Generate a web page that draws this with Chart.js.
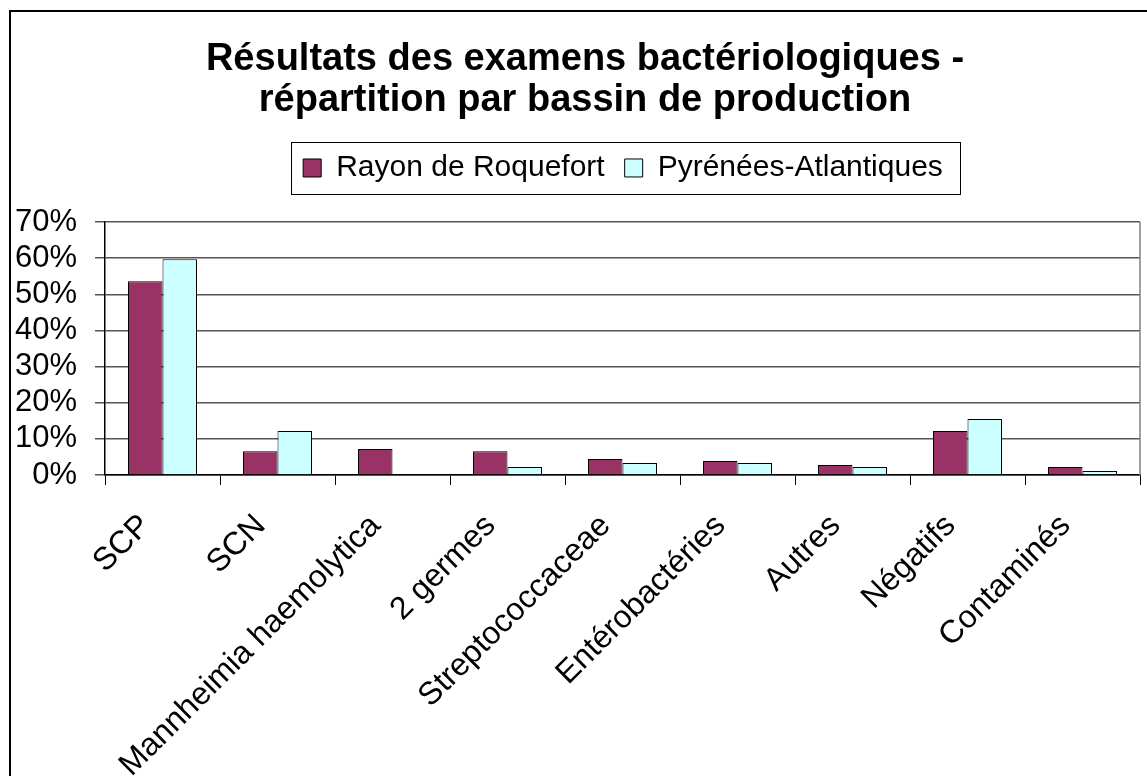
<!DOCTYPE html>
<html>
<head>
<meta charset="utf-8">
<script src="https://cdn.jsdelivr.net/npm/chart.js@4"></script>
<style>
  html, body { margin: 0; padding: 0; background: #fff; overflow: hidden; }
  #wrap { position: relative; width: 1147px; height: 776px; }
</style>
</head>
<body>
<div id="wrap"><canvas id="bacterioChart"></canvas></div>
<script>
const categories = ['SCP', 'SCN', 'Mannheimia haemolytica', '2 germes', 'Streptococcaceae',
  'Entérobactéries', 'Autres', 'Négatifs', 'Contaminés'];
const roquefort = [53.6, 6.6, 7.2, 6.6, 4.4, 3.9, 2.8, 12.2, 2.2];
const pyrenees = [59.7, 12.2, null, 2.2, 3.3, 3.3, 2.2, 15.5, 1.1];
const yTicks = [0, 10, 20, 30, 40, 50, 60, 70];

const FONT = 'Liberation Sans, Arial, sans-serif';

// excel-like frame, legend box and plot border + nudges for title/legend position
const excelLook = {
  id: 'excelLook',
  afterLayout(chart) {
    const t = chart.titleBlock;
    if (t) { t.left += 15; t.right += 15; }
    const lg = chart.legend;
    if (lg) { lg.left += 53; lg.right += 53; }
  },
  afterDraw(chart) {
    const ctx = chart.ctx;
    const area = chart.chartArea;
    ctx.save();
    // outer frame
    ctx.strokeStyle = '#000';
    ctx.lineWidth = 2;
    ctx.beginPath();
    ctx.moveTo(10, chart.height + 5);
    ctx.lineTo(10, 11);
    ctx.lineTo(chart.width + 5, 11);
    ctx.stroke();
    // right border of plot area
    ctx.strokeStyle = '#808080';
    ctx.lineWidth = 1.5;
    ctx.beginPath();
    ctx.moveTo(area.right, area.top);
    ctx.lineTo(area.right, area.bottom);
    ctx.stroke();
    // legend box
    const boxes = chart.legend.legendHitBoxes;
    if (boxes && boxes.length) {
      const first = boxes[0];
      const last = boxes[boxes.length - 1];
      const x0 = first.left - 12;
      const x1 = last.left + last.width + 17;
      const yMid = first.top + first.height / 2;
      ctx.strokeStyle = '#000';
      ctx.lineWidth = 1;
      ctx.strokeRect(Math.round(x0) + 0.5, Math.round(yMid - 26) + 0.5, Math.round(x1 - x0), 52);
    }
    ctx.restore();
  }
};

const ctx = document.getElementById('bacterioChart').getContext('2d');
const chart = new Chart(ctx, {
  type: 'bar',
  data: {
    labels: categories,
    datasets: [
      {
        label: 'Rayon de Roquefort',
        data: roquefort,
        backgroundColor: '#993366',
        borderColor: '#000',
        borderWidth: 1,
      },
      {
        label: 'Pyrénées-Atlantiques',
        data: pyrenees,
        backgroundColor: '#CCFFFF',
        borderColor: '#000',
        borderWidth: 1,
      },
    ],
  },
  options: {
    responsive: true,
    maintainAspectRatio: false,
    animation: false,
    layout: { padding: { left: 0, right: 7, top: 0, bottom: 0 } },
    datasets: {
      bar: { categoryPercentage: 0.6, barPercentage: 1.0 },
    },
    plugins: {
      title: {
        display: true,
        text: ['Résultats des examens bactériologiques -', 'répartition par bassin de production'],
        color: '#000',
        font: { family: FONT, size: 38, weight: 'bold', lineHeight: 1.08 },
        padding: { top: 38.5, bottom: 12.4 },
      },
      subtitle: {
        // spacer between legend and plot area
        display: true,
        text: '',
        weight: 500,
        font: { size: 1, lineHeight: 1 },
        padding: { top: 0, bottom: 28 },
      },
      legend: {
        display: true,
        position: 'top',
        labels: {
          color: '#000',
          font: { family: FONT, size: 30 },
          boxWidth: 18,
          boxHeight: 18,
          padding: 20,
        },
      },
      tooltip: { enabled: false },
    },
    scales: {
      x: {
        grid: {
          display: true,
          drawOnChartArea: false,
          offset: true,
          color: '#000',
          tickLength: 10,
        },
        border: { color: '#000', width: 1.5 },
        ticks: {
          color: '#000',
          font: { family: FONT, size: 32 },
          minRotation: 45,
          maxRotation: 45,
          autoSkip: false,
          padding: 22,
          labelOffset: -17,
        },
        afterFit(scale) { scale.height = 301; },
      },
      y: {
        min: 0,
        max: 70,
        grid: { color: '#555', lineWidth: 1.5, tickLength: 10 },
        border: { color: '#000', width: 1.5 },
        afterBuildTicks(scale) { scale.ticks = yTicks.map((v) => ({ value: v })); },
        ticks: {
          color: '#000',
          font: { family: FONT, size: 31 },
          padding: 18,
          autoSkip: false,
          callback: (v) => v + '%',
        },
        afterFit(scale) { scale.width = 105; },
      },
    },
  },
  plugins: [excelLook],
});
</script>
</body>
</html>
